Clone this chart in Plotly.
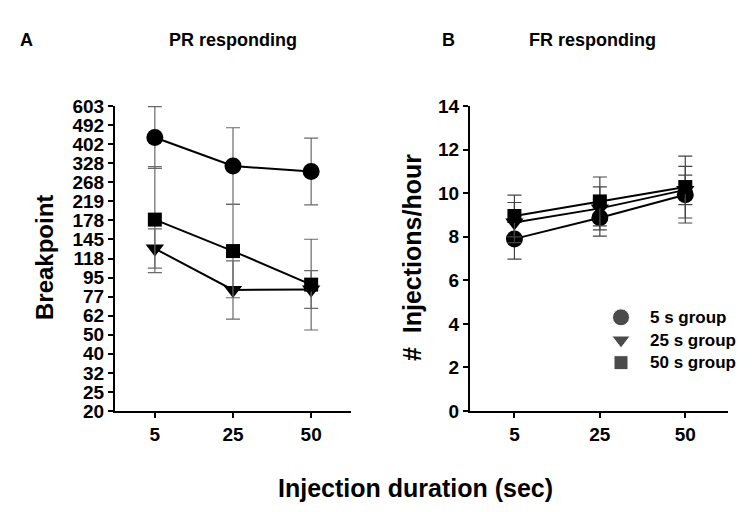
import plotly.graph_objects as go

# ---------------- data ----------------
durations = ["5", "25", "50"]
groups = ["5 s group", "25 s group", "50 s group"]
symbols = ["circle", "triangle-down", "square"]
sizes = [17, 16, 14]

# PR schedule: breakpoint values shown as evenly spaced ratio steps
pr_tick_labels = [20, 25, 32, 40, 50, 62, 77, 95, 118, 145, 178, 219, 268, 328, 402, 492, 603]

# Panel A: breakpoint expressed in PR-step units (position on the ratio ladder)
pr_5s = [14.35, 12.85, 12.56]
pr_5s_err = [1.62, 2.01, 1.75]
pr_25s = [8.52, 6.35, 6.37]
pr_25s_err = [1.03, 1.53, 0.99]
pr_50s = [10.04, 8.39, 6.63]
pr_50s_err = [2.78, 2.45, 2.38]

# Panel B: injections per hour
fr_5s = [7.9, 8.87, 9.93]
fr_5s_err = [0.93, 0.84, 1.3]
fr_25s = [8.65, 9.3, 10.15]
fr_25s_err = [0.92, 0.99, 0.68]
fr_50s = [8.95, 9.62, 10.28]
fr_50s_err = [0.96, 1.12, 1.42]

FONT = "Liberation Sans, Arial, Helvetica, sans-serif"

W, H = 752, 512
OFF = 8  # page body margin of the browser


def px(x):
    return (x - OFF) / W


def py(y):
    return 1 - (y - OFF) / H


fig = go.Figure()

pr_series = [(pr_5s, pr_5s_err), (pr_25s, pr_25s_err), (pr_50s, pr_50s_err)]
fr_series = [(fr_5s, fr_5s_err), (fr_25s, fr_25s_err), (fr_50s, fr_50s_err)]

for i, (vals, errs) in enumerate(pr_series):
    fig.add_trace(go.Scatter(
        x=durations, y=vals, mode="lines+markers", xaxis="x", yaxis="y",
        line=dict(color="black", width=2),
        marker=dict(symbol=symbols[i], size=sizes[i], color="black"),
        error_y=dict(type="data", array=errs, visible=True, color="#6a6a6a",
                     thickness=1.2, width=7),
        showlegend=False, cliponaxis=False, name=groups[i]))

for i, (vals, errs) in enumerate(fr_series):
    fig.add_trace(go.Scatter(
        x=durations, y=vals, mode="lines+markers", xaxis="x2", yaxis="y2",
        line=dict(color="black", width=2),
        marker=dict(symbol=symbols[i], size=sizes[i], color="black"),
        error_y=dict(type="data", array=errs, visible=True, color="#444444",
                     thickness=1.2, width=7),
        showlegend=False, cliponaxis=False, name=groups[i]))

ydom = [py(411), py(106)]

# legend key: drawn on an invisible overlay axis measured in legend rows
legend_rows = [0, 1, 2]
fig.add_trace(go.Scatter(
    x=[0, 0, 0], y=legend_rows, mode="markers", xaxis="x3", yaxis="y3",
    marker=dict(symbol=symbols, size=sizes, color="black"),
    showlegend=False, hoverinfo="skip", cliponaxis=False))

axis_common = dict(showline=True, linecolor="black", linewidth=2,
                   ticks="outside", ticklen=5, tickwidth=1.5, tickcolor="black",
                   showgrid=False, zeroline=False, automargin=False,
                   tickfont=dict(family=FONT, size=19, color="black", weight="bold"))

fig.update_layout(
    template="none",
    width=W, height=H,
    margin=dict(l=0, r=0, t=0, b=0, pad=0, autoexpand=False),
    paper_bgcolor="white", plot_bgcolor="rgba(0,0,0,0)",
    font=dict(family=FONT, color="black"),
    showlegend=False,
    xaxis=dict(domain=[px(115), px(351)], anchor="y", type="category",
               range=[-0.51, 2.51], **axis_common),
    yaxis=dict(domain=ydom, anchor="x", range=[0, 16],
               tickvals=list(range(len(pr_tick_labels))),
               ticktext=[str(v) for v in pr_tick_labels], **axis_common),
    xaxis2=dict(domain=[px(470), px(728)], anchor="y2", type="category",
                range=[-0.52, 2.5], **axis_common),
    yaxis2=dict(domain=ydom, anchor="x2", range=[0, 14],
                tickvals=[0, 2, 4, 6, 8, 10, 12, 14], **axis_common),
    xaxis3=dict(domain=[px(610), px(632)], anchor="y3", range=[-1, 1],
                visible=False, automargin=False, fixedrange=True),
    yaxis3=dict(domain=[py(374), py(306)], anchor="x3", range=[2.5, -0.5],
                visible=False, automargin=False, fixedrange=True),
)


def ann(text, x, y, size, angle=0, xanchor="center"):
    fig.add_annotation(text=text, x=px(x), y=py(y), xref="paper", yref="paper",
                       showarrow=False, textangle=angle, xanchor=xanchor, yanchor="middle",
                       font=dict(family=FONT, size=size, color="black", weight="bold"))


ann("A", 26, 40, 18)
ann("PR responding", 233, 40, 18)
ann("B", 448, 40, 18)
ann("FR responding", 592, 40, 18)
ann("Breakpoint", 44, 258, 24, -90)
ann("#  Injections/hour", 412, 258, 25, -90)
ann("Injection duration (sec)", 416, 488, 25)

# legend labels
for i, g in enumerate(groups):
    fig.add_annotation(text=g, x=px(648), y=legend_rows[i], xref="paper", yref="y3",
                       showarrow=False, xanchor="left", yanchor="middle",
                       font=dict(family=FONT, size=17, color="black", weight="bold"))

fig.write_html("out.html")
